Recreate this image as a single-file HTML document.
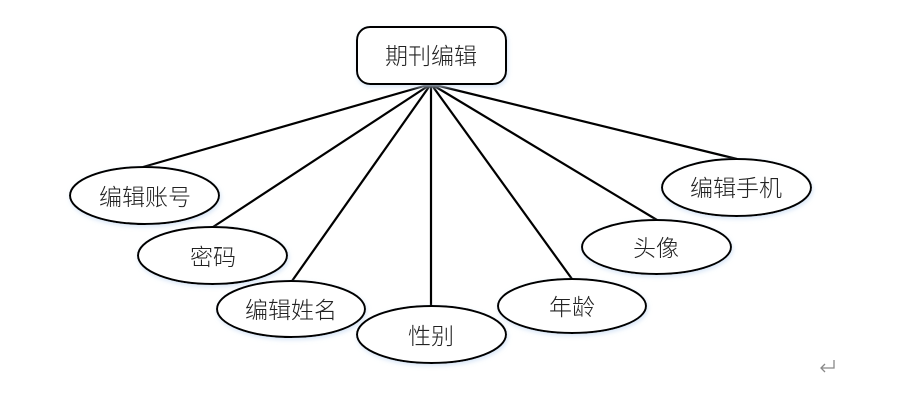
<!DOCTYPE html>
<html><head><meta charset="utf-8"><style>
html,body{margin:0;padding:0;background:#fff;width:903px;height:401px;overflow:hidden}
svg{display:block}
text{font-family:"Liberation Sans","Noto Sans CJK SC",sans-serif;font-size:23px;font-weight:300;fill:#222;text-anchor:middle;dominant-baseline:central}
</style></head><body>
<svg width="903" height="401" viewBox="0 0 903 401" xmlns="http://www.w3.org/2000/svg">
<defs>
<filter id="g" x="-20%" y="-30%" width="140%" height="160%">
<feDropShadow dx="1" dy="2" stdDeviation="2" flood-color="#cfe0f5" flood-opacity="0.8"/>
</filter>
</defs>
<g stroke="#000" stroke-width="2.2" fill="none">
<line x1="431" y1="84" x2="143" y2="167"/>
<line x1="431" y1="84" x2="213" y2="227"/>
<line x1="431" y1="84" x2="292" y2="281"/>
<line x1="431" y1="84" x2="431" y2="306"/>
<line x1="431" y1="84" x2="572" y2="279"/>
<line x1="431" y1="84" x2="657" y2="220"/>
<line x1="431" y1="84" x2="737" y2="159"/>
</g>
<g stroke="#000" stroke-width="2" fill="#fff" filter="url(#g)">
<rect x="357" y="27" width="149" height="57" rx="13" ry="13"/>
<ellipse cx="144.5" cy="195.5" rx="74.5" ry="28.5"/>
<ellipse cx="212.5" cy="255.5" rx="74.5" ry="28.5"/>
<ellipse cx="291" cy="309" rx="74" ry="28"/>
<ellipse cx="431.5" cy="334.5" rx="74.5" ry="28.5"/>
<ellipse cx="572" cy="306" rx="74" ry="27"/>
<ellipse cx="656.5" cy="247" rx="74.5" ry="27"/>
<ellipse cx="736.5" cy="187.5" rx="74.5" ry="28.5"/>
</g>
<text x="431" y="56">期刊编辑</text>
<text x="145" y="197">编辑账号</text>
<text x="213" y="257">密码</text>
<text x="291" y="310">编辑姓名</text>
<text x="431" y="336">性别</text>
<text x="572" y="307">年龄</text>
<text x="656" y="248">头像</text>
<text x="736" y="188">编辑手机</text>
<g stroke="#888" stroke-width="1.3" fill="none">
<polyline points="834,360 834,368 821,368"/>
<polyline points="825,364 821,368 825,372"/>
</g>
</svg>
</body></html>
